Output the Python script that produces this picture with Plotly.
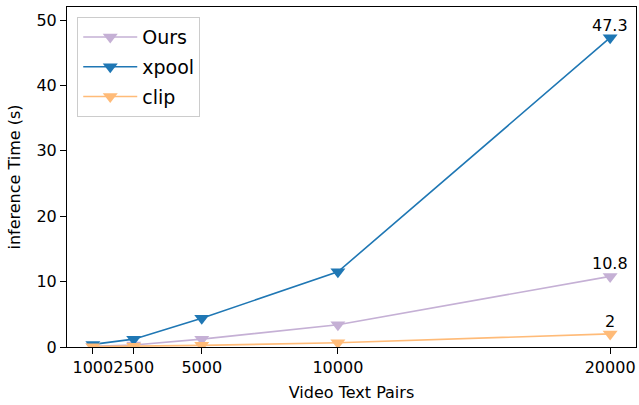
import plotly.graph_objects as go

pairs = [1000, 2500, 5000, 10000, 20000]
tick_labels = ["1000", "2500", "5000", "10000", "20000"]
ours = [0.1, 0.3, 1.2, 3.4, 10.8]
xpool = [0.4, 1.2, 4.4, 11.5, 47.3]
clip = [0.05, 0.1, 0.25, 0.65, 2.0]
end_labels = ["10.8", "47.3", "2"]

series = [("Ours", ours, "#c5b0d5"), ("xpool", xpool, "#1f77b4"), ("clip", clip, "#ffbb78")]

FONT = "DejaVu Sans"
fig = go.Figure()
for i, (name, vals, color) in enumerate(series):
    fig.add_trace(go.Scatter(
        x=pairs, y=vals, name=name, mode="lines+markers",
        line=dict(color=color, width=1.6),
        marker=dict(symbol="triangle-down", size=13, color=color),
        legendgroup=f"g{i}",
    ))
    fig.add_annotation(x=pairs[-1], y=vals[-1], text=end_labels[i], showarrow=False,
                       xanchor="center", yanchor="bottom", yshift=1,
                       font=dict(family=FONT, size=16, color="black"))

axis_common = dict(showline=True, mirror=True, linecolor="black", linewidth=1.1,
                   ticks="outside", ticklen=6, tickwidth=1.1, tickcolor="black",
                   showgrid=False, zeroline=False, automargin=False, tickangle=0,
                   tickfont=dict(family=FONT, size=16, color="black"))

fig.update_layout(
    width=639, height=405,
    margin=dict(l=67, r=3, t=7, b=58),
    plot_bgcolor="white", paper_bgcolor="white",
    font=dict(family=FONT, color="black"),
    xaxis=dict(range=[50, 20950], tickvals=pairs, ticktext=tick_labels,
               title=dict(text="Video Text Pairs", font=dict(family=FONT, size=16), standoff=10),
               **axis_common),
    yaxis=dict(range=[0, 52], tickvals=[0, 10, 20, 30, 40, 50],
               title=dict(text="inference Time (s)", font=dict(family=FONT, size=16), standoff=11),
               **axis_common),
    legend=dict(x=0.018, y=0.97, xanchor="left", yanchor="top",
                bgcolor="white", bordercolor="#cccccc", borderwidth=1,
                font=dict(family=FONT, size=19, color="black"),
                tracegroupgap=2, itemwidth=54),
    showlegend=True,
)

fig.write_html("out.html", config={"displayModeBar": False},
               post_script="document.body.style.margin='0';")
